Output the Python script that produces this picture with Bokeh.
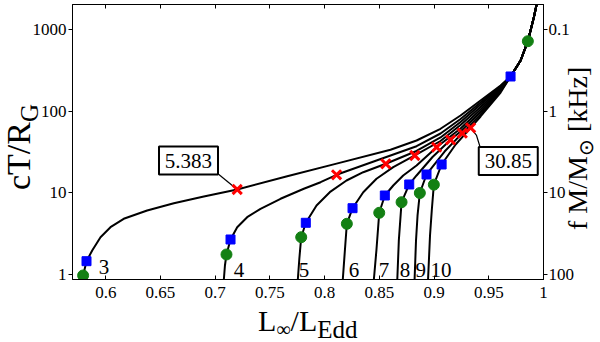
from bokeh.plotting import figure
from bokeh.models import LogAxis, LinearAxis, FixedTicker, Range1d, Div
from bokeh.layouts import column
from bokeh.embed import file_html
from bokeh.resources import INLINE
from bokeh.core.properties import value

# ---------------- data ----------------
X_TICKS = [0.6, 0.65, 0.7, 0.75, 0.8, 0.85, 0.9, 0.95, 1.0]
X_TICK_LABELS = ["0.6", "0.65", "0.7", "0.75", "0.8", "0.85", "0.9", "0.95", "1"]
Y_TICKS = [1, 10, 100, 1000]
Y_TICK_LABELS = ["1", "10", "100", "1000"]
F_TICK_LABELS = ["100", "10", "1", "0.1"]   # f M/Msun [kHz] at the same heights

# common upper branch shared by all curves
ENV_X = [0.9699, 0.9791, 0.9857, 0.9912, 0.9937, 0.9955]
ENV_Y = [267.3, 420.2, 724.6, 1427, 2044, 2630]

C3_X = [0.5793, 0.5824, 0.5876, 0.5952, 0.6043, 0.6164, 0.6378, 0.6622, 0.6896, 0.7201,
        0.7658, 0.8109, 0.8602, 0.8840, 0.9059, 0.9242, 0.9425, 0.9608]
C3_Y = [0.967, 1.448, 1.959, 2.852, 3.784, 4.797, 6.066, 7.456, 9.008, 10.98,
        15.99, 22.81, 33.7, 43.8, 61.0, 88.8, 135.7, 207.3]
C4_X = [0.7079, 0.7089, 0.7103, 0.7140, 0.7201, 0.7292, 0.7414, 0.7597, 0.7810, 0.7963,
        0.8109, 0.8474, 0.8840, 0.9059, 0.9242, 0.9425, 0.9608]
C4_Y = [0.863, 1.282, 1.750, 2.673, 3.784, 5.018, 6.364, 8.44, 11.20, 13.49,
        16.63, 24.91, 37.31, 53.4, 80.5, 128.2, 202.6]
C5_X = [0.7755, 0.7769, 0.7786, 0.7828, 0.7926, 0.8047, 0.8200, 0.8353, 0.8559, 0.8840,
        0.9059, 0.9242, 0.9425, 0.9608]
C5_Y = [0.863, 1.563, 2.852, 4.284, 6.987, 10.17, 14.16, 17.89, 22.69, 32.6,
        47.7, 73.9, 121.2, 198.1]
C6_X = [0.8166, 0.8185, 0.8203, 0.8255, 0.8353, 0.8474, 0.8627, 0.8824, 0.9059, 0.9242,
        0.9425, 0.9608]
C6_Y = [0.863, 1.959, 4.165, 6.471, 10.17, 14.85, 20.61, 28.69, 43.2, 67.9,
        112.9, 193.1]
C7_X = [0.8450, 0.8473, 0.8499, 0.8550, 0.8627, 0.8718, 0.8840, 0.9023, 0.9242, 0.9425, 0.9608]
C7_Y = [0.863, 1.959, 5.684, 9.267, 12.29, 16.31, 21.63, 36.27, 61.5, 105.2, 187.7]
C8_X = [0.8664, 0.8678, 0.8703, 0.8773, 0.8840, 0.8986, 0.9151, 0.9242, 0.9425, 0.9608]
C8_Y = [0.863, 2.598, 7.668, 12.65, 16.31, 27.5, 44.7, 56.5, 98.0, 182.5]
C9_X = [0.8822, 0.8835, 0.8849, 0.8870, 0.8931, 0.9096, 0.9258, 0.9425, 0.9608]
C9_Y = [0.863, 2.598, 5.27, 9.943, 16.77, 32.1, 53.9, 91.4, 176.5]
C10_X = [0.8945, 0.8963, 0.8979, 0.8998, 0.9069, 0.9197, 0.9334, 0.9425, 0.9608]
C10_Y = [0.863, 2.993, 6.07, 12.58, 22.25, 39.1, 62.7, 86.4, 170.1]

CURVE_NAMES = ["3", "4", "5", "6", "7", "8", "9", "10"]
CURVES = [(C3_X, C3_Y), (C4_X, C4_Y), (C5_X, C5_Y), (C6_X, C6_Y),
          (C7_X, C7_Y), (C8_X, C8_Y), (C9_X, C9_Y), (C10_X, C10_Y)]

GREEN_X = [0.5793, 0.7103, 0.7786, 0.8203, 0.8499, 0.8703, 0.8870, 0.8998, 0.9857]
GREEN_Y = [0.967, 1.750, 2.852, 4.165, 5.684, 7.668, 9.943, 12.58, 724.6]
BLUE_X = [0.5824, 0.7140, 0.7828, 0.8255, 0.8550, 0.8773, 0.8931, 0.9069, 0.9699]
BLUE_Y = [1.448, 2.673, 4.284, 6.471, 9.267, 12.65, 16.77, 22.25, 267.3]
CROSS_X = [0.7201, 0.8109, 0.8559, 0.8824, 0.9023, 0.9151, 0.9258, 0.9334]
CROSS_Y = [10.98, 16.63, 22.69, 28.69, 36.27, 44.7, 53.9, 62.7]

CALLOUT_TEXT = ["5.383", "30.85"]

# ---------------- annotation placement ----------------
LABEL_X = [0.5937, 0.7170, 0.7764, 0.8221, 0.8495, 0.8687, 0.8831, 0.8968]
LABEL_Y = [1.222, 1.113, 1.113, 1.113, 1.113, 1.113, 1.113, 1.113]
BOX_X = [0.6756, 0.9678]
BOX_Y = [24.9, 24.55]
LEADER_1 = ([CROSS_X[0], 0.7025], [CROSS_Y[0], 17.1])
LEADER_2 = ([CROSS_X[-1], 0.9388, 0.9419], [CROSS_Y[-1], 50.5, 37.0])


def set_font(obj, attr, font):
    try:
        setattr(obj, attr, value(font))
    except Exception:
        setattr(obj, attr, font)


p = figure(width=600, height=342,
           x_range=Range1d(0.5696, 1.0), y_range=Range1d(0.863, 2044),
           y_axis_type="log", output_backend="svg", toolbar_location=None,
           min_border_left=72, min_border_right=57, min_border_top=4,
           min_border_bottom=63)
p.grid.visible = False
p.outline_line_color = "black"
p.background_fill_color = "white"
p.border_fill_color = "white"

# bottom axis
xa = p.xaxis[0]
xa.ticker = FixedTicker(ticks=X_TICKS)
xa.major_label_overrides = dict(zip(X_TICKS, X_TICK_LABELS))
xa.major_tick_in = 4
xa.major_tick_out = 0
xa.minor_tick_line_color = None
xa.major_label_standoff = 7
set_font(xa, "major_label_text_font", "Times New Roman")
xa.major_label_text_font_size = "17px"
xa.major_label_text_color = "black"
xa.axis_line_color = "black"
xa.major_tick_line_color = "black"

# left axis
ya = p.yaxis[0]
ya.ticker = FixedTicker(ticks=Y_TICKS)
ya.major_label_overrides = dict(zip(Y_TICKS, Y_TICK_LABELS))
ya.major_tick_in = 0
ya.major_tick_out = 4
ya.minor_tick_line_color = None
ya.major_label_standoff = 2
set_font(ya, "major_label_text_font", "'Liberation Serif'")
ya.major_label_text_font_size = "17px"
ya.major_label_text_color = "black"

# right axis (frequency)
ra = LogAxis(ticker=FixedTicker(ticks=Y_TICKS),
             major_label_overrides=dict(zip(Y_TICKS, F_TICK_LABELS)),
             major_tick_in=0, major_tick_out=4, minor_tick_line_color=None,
             major_label_standoff=1,
             major_label_text_font_size="17px", major_label_text_color="black")
set_font(ra, "major_label_text_font", "serif")
p.add_layout(ra, "right")

# top axis: inward ticks only
ta = LinearAxis(ticker=FixedTicker(ticks=X_TICKS),
                major_label_overrides={t: "" for t in X_TICKS},
                major_tick_in=4, major_tick_out=0, minor_tick_line_color=None,
                major_label_standoff=0, major_label_text_font_size="0px")
p.add_layout(ta, "above")

# curves
for cx, cy in CURVES:
    p.line(cx + ENV_X, cy + ENV_Y, line_color="black", line_width=2)

# leaders
p.line(LEADER_1[0], LEADER_1[1], line_color="black", line_width=1.2)
p.line(LEADER_2[0], LEADER_2[1], line_color="black", line_width=1.2)

# callout boxes
p.rect(x=BOX_X, y=BOX_Y, width=59, height=28, width_units="screen",
       height_units="screen", fill_color="white", line_color="black", line_width=2)
p.text(x=BOX_X, y=BOX_Y, text=CALLOUT_TEXT, text_font=value("Liberation Serif, serif"),
       text_font_size="21px", text_align="center", text_baseline="middle",
       text_color="black")

# markers
p.scatter(GREEN_X, GREEN_Y, marker="circle", size=11,
          fill_color="#138013", line_color="#138013")
p.scatter(BLUE_X, BLUE_Y, marker="square", size=9,
          fill_color="#0000ff", line_color="#0000ff")
p.scatter(CROSS_X, CROSS_Y, marker="x", size=13,
          line_color="#ff0000", line_width=3)

# curve names
p.text(x=LABEL_X, y=LABEL_Y, text=CURVE_NAMES, text_font=value("Liberation Serif"),
       text_font_size="21px", text_baseline="alphabetic", text_align="left",
       text_color="black")


# axis titles as HTML (sub/superscripts), placed over the figure
def title_div(html, left, top, rotate):
    styles = {"position": "absolute", "left": f"{left}px", "top": f"{top}px",
              "white-space": "nowrap", "line-height": "1", "color": "black",
              "font-family": "'Liberation Serif', serif", "z-index": "10"}
    if rotate:
        styles["transform"] = "rotate(-90deg)"
        styles["transform-origin"] = "0 0"
    return Div(text=html, styles=styles, margin=0)


def sub(t, size, drop):
    return f'<span style="font-size:{size}px;position:relative;top:{drop}px">{t}</span>'


x_title = title_div(
    '<span style="font-size:30px;line-height:1">L' + sub("\u221e", 20, 5) + "/L"
    + sub("Edd", 25, 7) + "</span>", 258, 306, False)
y_title = title_div(
    '<span style="font-size:34px;line-height:1">cT/R' + sub("G", 25, 8) + "</span>",
    2, 190, True)
f_title = title_div(
    '<span style="font-size:28px;line-height:1">f M/M' + sub("\u2299", 20, 6)
    + " [kHz]</span>", 564, 230, True)

layout = column(p, x_title, y_title, f_title, spacing=0)

open("out.html", "w").write(file_html(layout, INLINE))
